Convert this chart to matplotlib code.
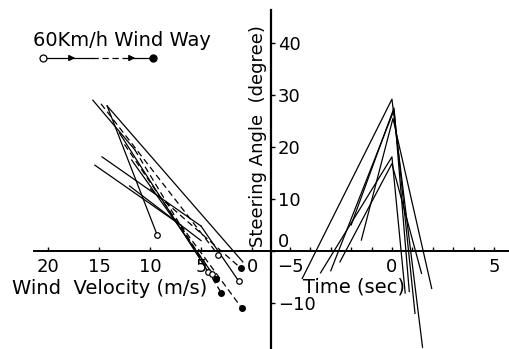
import numpy as np
import matplotlib
matplotlib.use("Agg")
import matplotlib.pyplot as plt

plt.rcParams["font.family"] = ["DejaVu Sans"]

# steering angle vs wind velocity (left half), one list per run
wind_runs = [
    # (wind velocity, steering angle, style, end marker)
    ([15.6, 11.5], [29.0, 19.5], "-", None),
    ([11.5, 3.0], [19.5, -8.1], "--", "filled"),
    ([14.2, 9.3], [27.9, 3.1], "-", "open"),
    ([14.2, 0.9], [27.9, -2.1], "-", None),
    ([15.4, 7.0], [16.5, 5.0], "-", None),
    ([7.0, 1.0], [5.0, -11.0], "--", "filled"),
    ([14.7, 5.0], [18.1, 4.8], "-", None),
    ([5.0, 1.3], [4.8, -5.8], "-", "open"),
    ([14.8, 3.3], [28.3, -0.8], "--", "open"),
    ([13.0, 4.3], [22.7, -4.0], "-", "open"),
    ([12.5, 3.9], [20.5, -4.4], "--", "open"),
    ([11.8, 3.5], [17.5, -5.4], "-", "filled"),
    ([10.0, 1.1], [12.0, -3.3], "--", "filled"),
    ([12.0, 5.0], [12.5, 2.0], "-", None),
]

# steering angle vs time (right half)
time_runs = [
    ([-4.4, 0.0, 1.5], [-5.3, 29.2, -18.5]),
    ([-3.5, 0.0, 0.65], [-4.2, 18.1, -8.1]),
    ([-3.0, 0.1, 1.13], [-3.8, 27.1, -12.0]),
    ([-2.55, 0.0, 1.45], [-2.1, 16.8, -4.3]),
    ([-1.5, 0.05, 1.95], [2.1, 25.5, -7.2]),
    ([-2.0, 0.1, 0.85], [5.0, 27.5, -7.8]),
]

wind_ticks = [0, 5, 10, 15, 20]
angle_ticks = [-10, 0, 10, 20, 30, 40]
time_ticks = [-5, 0, 5]
time_minor = [-5, -4, -3, -2, -1, 0, 1, 2, 3, 4, 5]

fig = plt.figure(figsize=(5.09, 3.49), dpi=100)
W, H = 509.0, 349.0


def fpos(x, y):
    return x / W, 1 - y / H


ylo, yhi = -18.85, 48.27

ax1 = fig.add_axes([0, 0, 271 / W, 1])
ax1.set_xlim(24.7, -1.86)
ax1.set_ylim(ylo, yhi)
ax1.patch.set_alpha(0)
for s in ["top", "left"]:
    ax1.spines[s].set_visible(False)
ax1.spines["right"].set_bounds(ylo, 46.3)
ax1.spines["right"].set_linewidth(1.6)
ax1.spines["bottom"].set_position(("data", 0))
ax1.spines["bottom"].set_bounds(-1.86, 21.4)
ax1.spines["bottom"].set_linewidth(1.4)
ax1.yaxis.tick_right()
ax1.set_yticks(angle_ticks)
ax1.set_xticks(wind_ticks)
ax1.tick_params(axis="y", direction="out", length=3, width=1, labelsize=13, pad=2)
ax1.tick_params(axis="x", direction="in", length=3, width=1, labelsize=13, pad=5)
for lab in ax1.get_yticklabels():
    if lab.get_text() in ("0",):
        lab.set_va("bottom")

dash = (5, 3)
for v, a, ls, mk in wind_runs:
    if ls == "--":
        ax1.plot(v, a, color="black", lw=0.9, ls="--", dashes=dash)
    else:
        ax1.plot(v, a, color="black", lw=0.9)
    if mk == "open":
        ax1.plot(v[-1], a[-1], "o", ms=4, mfc="white", mec="black", mew=0.9, zorder=5)
    elif mk == "filled":
        ax1.plot(v[-1], a[-1], "o", ms=4, color="black", zorder=5)

ax2 = fig.add_axes([271 / W, 0, 238 / W, 1])
ax2.set_xlim(-5.93, 5.74)
ax2.set_ylim(ylo, yhi)
ax2.patch.set_alpha(0)
for s in ["top", "left", "right"]:
    ax2.spines[s].set_visible(False)
ax2.spines["bottom"].set_position(("data", 0))
ax2.spines["bottom"].set_linewidth(1.4)
ax2.set_yticks([])
ax2.set_xticks(time_ticks)
ax2.set_xticks(time_minor, minor=True)
ax2.tick_params(axis="x", which="both", direction="in", length=3, width=1, labelsize=13, pad=5)

for t, a in time_runs:
    ax2.plot(t, a, color="black", lw=0.9)

# legend for the wind runs
x0, y0 = fpos(43, 58)
x1, _ = fpos(92, 58)
x2, _ = fpos(135, 58)
x3, _ = fpos(153, 58)
fig.add_artist(plt.Line2D([x0, x1], [y0, y0], color="black", lw=0.9))
fig.add_artist(plt.Line2D([x1, x2], [y0, y0], color="black", lw=0.9, ls="--", dashes=dash))
fig.add_artist(plt.Line2D([x2, x3], [y0, y0], color="black", lw=0.9))
for xa in (fpos(78, 58)[0], fpos(138, 58)[0]):
    fig.add_artist(matplotlib.patches.FancyArrowPatch((xa - 0.02, y0), (xa, y0), transform=fig.transFigure,
                                                      arrowstyle="-|>", mutation_scale=9, color="black", lw=0.9))
fig.add_artist(plt.Line2D([x0], [y0], marker="o", ms=5, mfc="white", mec="black", mew=0.9))
fig.add_artist(plt.Line2D([x3], [y0], marker="o", ms=5, color="black"))

fig.text(*fpos(33, 40), "60Km/h Wind Way", fontsize=14, va="center", ha="left")
fig.text(*fpos(12, 289), "Wind  Velocity (m/s)", fontsize=14, va="center", ha="left")
fig.text(*fpos(303, 287), "Time (sec)", fontsize=14, va="center", ha="left")
fig.text(*fpos(258, 136), "Steering Angle  (degree)", fontsize=13, va="center", ha="center", rotation=90)

fig.savefig("out.png", dpi=100)
